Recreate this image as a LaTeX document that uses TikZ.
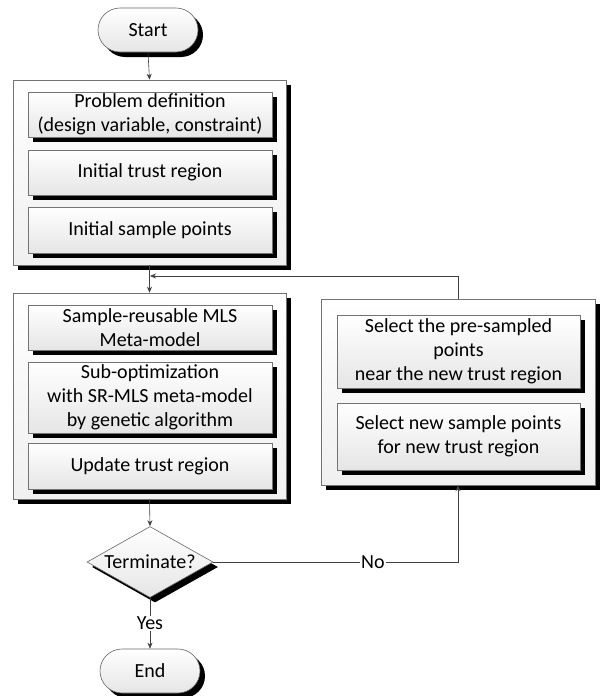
\documentclass[tikz,border=0pt]{standalone}
\usepackage{fontspec}
\setmainfont{Carlito}
\usetikzlibrary{shapes.geometric,shadows,arrows.meta}
\begin{document}
\begin{tikzpicture}[x=1pt,y=-1pt,
  font=\fontsize{20}{24}\selectfont,
  sh/.style={drop shadow={shadow xshift=5pt,shadow yshift=-5pt,fill=black,opacity=1}},
  outer/.style={draw=black!55,line width=0.6pt,top color=white,bottom color=black!6,sh,inner sep=0pt},
  inner/.style={draw=black!55,line width=0.6pt,top color=white,bottom color=black!10,sh,align=center,inner sep=0pt,minimum width=244pt},
  term/.style={draw=black!60,line width=0.6pt,top color=white,bottom color=black!10,sh,rounded corners=22pt,minimum width=100pt,minimum height=44pt,inner sep=0pt},
  dec/.style={diamond,draw=black!60,line width=0.6pt,top color=white,bottom color=black!10,sh,minimum width=126pt,minimum height=71pt,aspect=1.8,inner sep=0pt},
  conn/.style={draw=black!75,line width=0.6pt},
  arr/.style={conn,-{Stealth[length=6pt,width=5pt]}},
  lbl/.style={fill=white,inner sep=1pt}]
\useasboundingbox (0,0) rectangle (602,696);
% top
\node[term] (start) at (148,30) {Start};
\node[outer,minimum width=273pt,minimum height=185pt] (box1) at (149.5,172.5) {};
\node[inner,minimum height=45pt] (p1) at (150,114.5) {Problem definition\\(design variable, constraint)};
\node[inner,minimum height=45pt] (p2) at (150,172.5) {Initial trust region};
\node[inner,minimum height=46pt] (p3) at (150,230) {Initial sample points};
% middle left
\node[outer,minimum width=273pt,minimum height=206pt] (box2) at (149.5,396) {};
\node[inner,minimum height=45pt] (q1) at (150,327.5) {Sample-reusable MLS\\Meta-model};
\node[inner,minimum height=71pt] (q2) at (150,397.5) {Sub-optimization\\with SR-MLS meta-model\\by genetic algorithm};
\node[inner,minimum height=46pt] (q3) at (150,466) {Update trust region};
% right
\node[outer,minimum width=274pt,minimum height=186pt] (box3) at (458,392) {};
\node[inner,minimum width=243pt,minimum height=73pt] (r1) at (458.5,351.5) {Select the pre-sampled\\points\\near the new trust region};
\node[inner,minimum width=243pt,minimum height=67pt] (r2) at (458.5,436.5) {Select new sample points\\for new trust region};
% bottom
\node[dec] (d) at (150,562) {Terminate?};
\node[term] (end) at (150,671) {End};
\coordinate (m) at (150,276);
% connectors
\draw[arr] (start.south) -- (box1.north);
\draw[arr] (box1.south) -- (box2.north);
\draw[arr] (box3.north) |- (m);
\draw[arr] (box2.south) -- (d.north);
\draw[arr] (d.east) -| node[lbl,pos=0.326] {No} (box3.south);
\draw[arr] (d.south) -- node[lbl] {Yes} (end.north);
\end{tikzpicture}
\end{document}
